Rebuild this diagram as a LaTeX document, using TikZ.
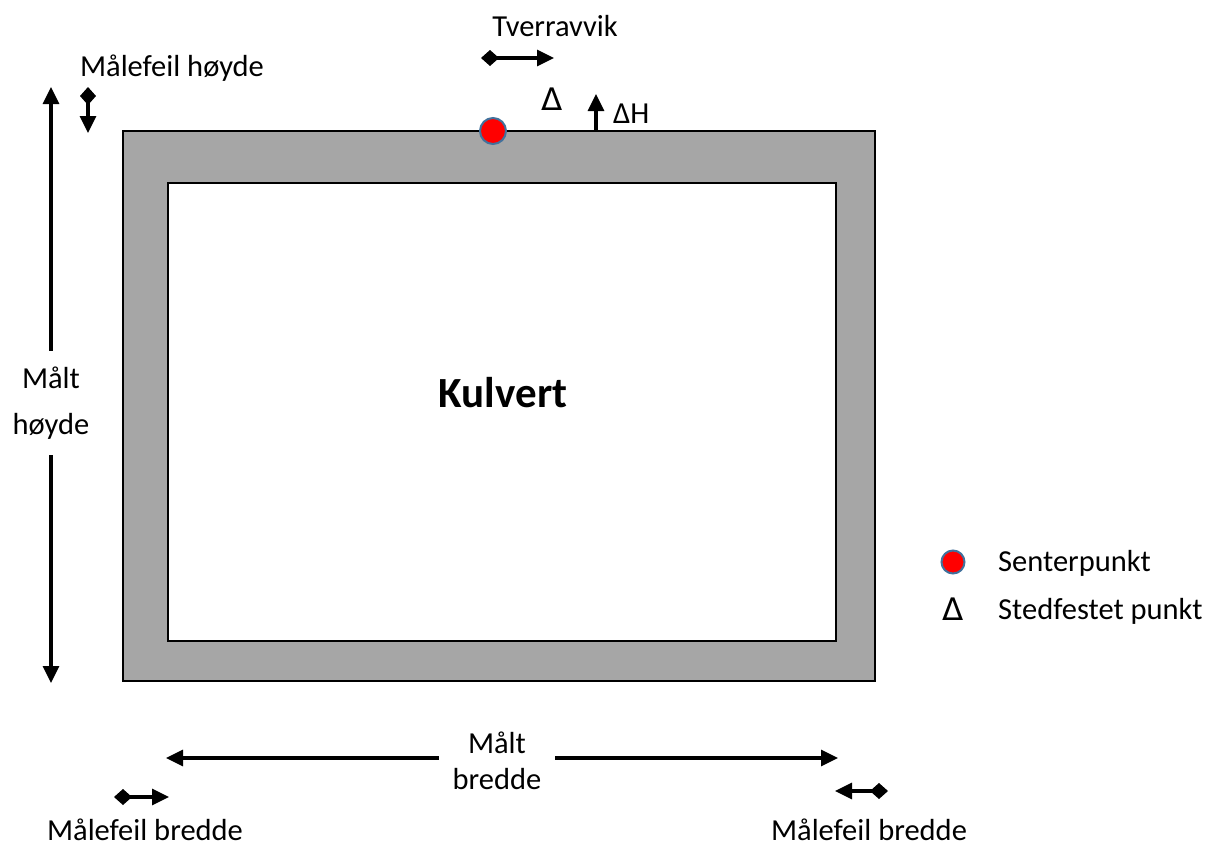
\documentclass[tikz,border=0pt]{standalone}
\usepackage{fontspec}
\setmainfont{Carlito}
\newfontfamily\symfont{DejaVu Sans}
\usetikzlibrary{arrows.meta}
\definecolor{wallgray}{HTML}{A6A6A6}
\definecolor{ptred}{HTML}{FF0000}
\definecolor{ptedge}{HTML}{41719C}
\tikzset{
  lbl/.style={font=\fontsize{30.5}{36}\selectfont, inner sep=0pt},
  dsym/.style={font=\symfont\fontsize{31}{36}\selectfont, inner sep=0pt},
  dimarrow/.style={line width=3.2pt, -{Triangle[length=17pt,width=16pt]}},
  dimboth/.style={line width=3.2pt, {Triangle[length=17pt,width=16pt]}-{Triangle[length=17pt,width=16pt]}},
  errarrow/.style={line width=3.2pt, {Diamond[length=18pt,width=16pt]}-{Triangle[length=17pt,width=16pt]}},
  centerpt/.style={circle, fill=ptred, draw=ptedge, line width=2pt, inner sep=0pt},
}
\begin{document}
\begin{tikzpicture}[x=1pt,y=-1pt]
\useasboundingbox (0,0) rectangle (1208,846);
% culvert
\draw[fill=wallgray, line width=2.5pt] (123,131) rectangle (875,681);
\draw[fill=white, line width=2.5pt] (168,183) rectangle (836,641);
\node[font=\fontsize{43}{50}\selectfont\bfseries, inner sep=0pt] (kulvert) at (503,393) {Kulvert};
% centre point and surveyed point
\node[centerpt, minimum size=26pt] (senter) at (493,131) {};
\node[dsym] (delta) at (552,99) {Δ};
\coordinate (dhbase) at (596,131);
\coordinate (dhtip) at (596,94);
\draw[dimarrow] (dhbase) -- (dhtip);
\node[lbl, anchor=west] (dh) at (613,114) {ΔH};
% Tverravvik
\node[lbl] (tverr) at (555,26) {Tverravvik};
\coordinate (tvA) at (481,58);
\coordinate (tvB) at (554,58);
\draw[errarrow] (tvA) -- (tvB);
% Maalefeil hoeyde
\node[lbl] (mhoyde) at (172,68) {Målefeil høyde};
\coordinate (mhA) at (88,87);
\coordinate (mhB) at (88,133);
\draw[errarrow] (mhA) -- (mhB);
% Maalt hoeyde
\coordinate (hTop) at (51,87);
\coordinate (hBot) at (51,683);
\draw[dimboth] (hTop) -- (hBot);
\node[lbl, fill=white, align=center, inner ysep=16pt, inner xsep=3pt] (mhlabel) at (51,403) {Målt\\[10pt]høyde};
% Maalt bredde
\coordinate (bL) at (166,758);
\coordinate (bR) at (838,758);
\draw[dimboth] (bL) -- (bR);
\node[lbl, fill=white, align=center, inner xsep=14pt, inner ysep=2pt] (mblabel) at (497,761) {Målt\\[0pt]bredde};
% Maalefeil bredde left
\coordinate (mbLA) at (114,797);
\coordinate (mbLB) at (169,797);
\draw[errarrow] (mbLA) -- (mbLB);
\node[lbl] (mbl) at (145,830) {Målefeil bredde};
% Maalefeil bredde right
\coordinate (mbRA) at (888,791);
\coordinate (mbRB) at (835,791);
\draw[errarrow] (mbRA) -- (mbRB);
\node[lbl] (mbr) at (869,830) {Målefeil bredde};
% legend
\node[centerpt, minimum size=23pt] (legsenter) at (953,562) {};
\node[lbl, anchor=west] (legsentertxt) at (998,563) {Senterpunkt};
\node[dsym] (legdelta) at (953,609) {Δ};
\node[lbl, anchor=west] (legdeltatxt) at (998,611) {Stedfestet punkt};
\end{tikzpicture}
\end{document}
